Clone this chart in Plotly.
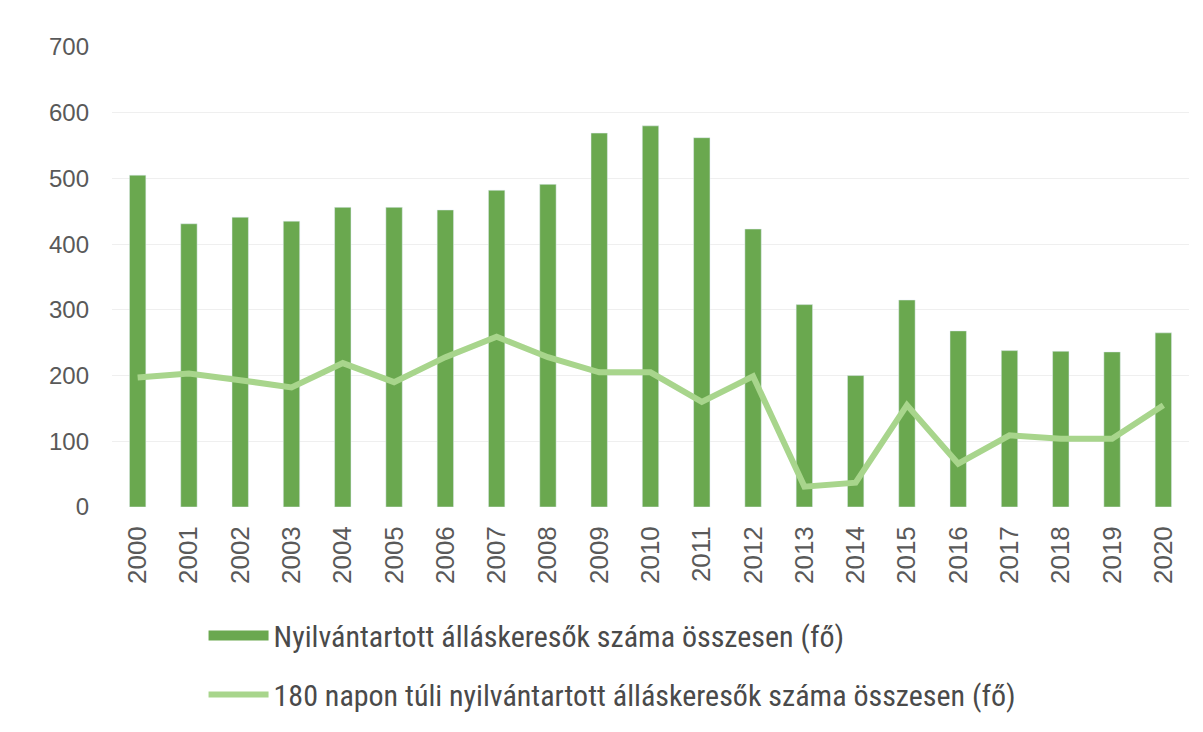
import plotly.graph_objects as go

years = [str(y) for y in range(2000, 2021)]
total = [505, 431, 441, 435, 456, 456, 452, 482, 491, 569, 580, 562, 423, 308, 200, 315, 268, 238, 237, 236, 265]
over180 = [197, 203, 193, 182, 219, 190, 228, 259, 228, 205, 205, 160, 199, 31, 37, 155, 66, 109, 104, 104, 155]

name_total = "Nyilvántartott álláskeresők száma összesen (fő)"
name_over = "180 napon túli nyilvántartott álláskeresők száma összesen (fő)"

bar_color = "#6aa84f"
line_color = "#a8d58c"
font_fam = "Liberation Sans Narrow, Arial Narrow, Roboto Condensed, Liberation Sans, sans-serif"

fig = go.Figure()
fig.add_trace(go.Bar(x=years, y=total, name=name_total, marker_color=bar_color,
                     showlegend=False))
# legend entry for the bars, drawn as a wide swatch like the original
fig.add_trace(go.Scatter(x=[None], y=[None], name=name_total, mode="lines",
                         line=dict(color=bar_color, width=15), legendgroup="a"))
fig.add_trace(go.Scatter(x=years, y=over180, name=name_over, mode="lines",
                         line=dict(color=line_color, width=6), legendgroup="b"))

fig.update_layout(
    width=1203, height=732,
    margin=dict(l=104, r=22, t=39, b=233),
    paper_bgcolor="white", plot_bgcolor="white",
    bargap=0.68,
    showlegend=True,
    legend=dict(orientation="v", x=0.085, y=-0.223, xanchor="left", yanchor="top",
                font=dict(size=30, color="#4a4a4a", family=font_fam),
                tracegroupgap=17, itemwidth=60, traceorder="grouped"),
    xaxis=dict(type="category", tickangle=-90, showgrid=False, zeroline=False,
               showline=False, ticks="", ticklabelstandoff=13,
               tickfont=dict(size=26, color="#595959", family="Liberation Sans, Arial, sans-serif")),
    yaxis=dict(range=[0, 700], dtick=100, showgrid=True, gridcolor="#efefef",
               gridwidth=1, zeroline=False, showline=False, ticks="",
               ticklabelstandoff=22,
               tickfont=dict(size=24, color="#595959", family="Liberation Sans, Arial, sans-serif")),
)

fig.write_html("out.html")
